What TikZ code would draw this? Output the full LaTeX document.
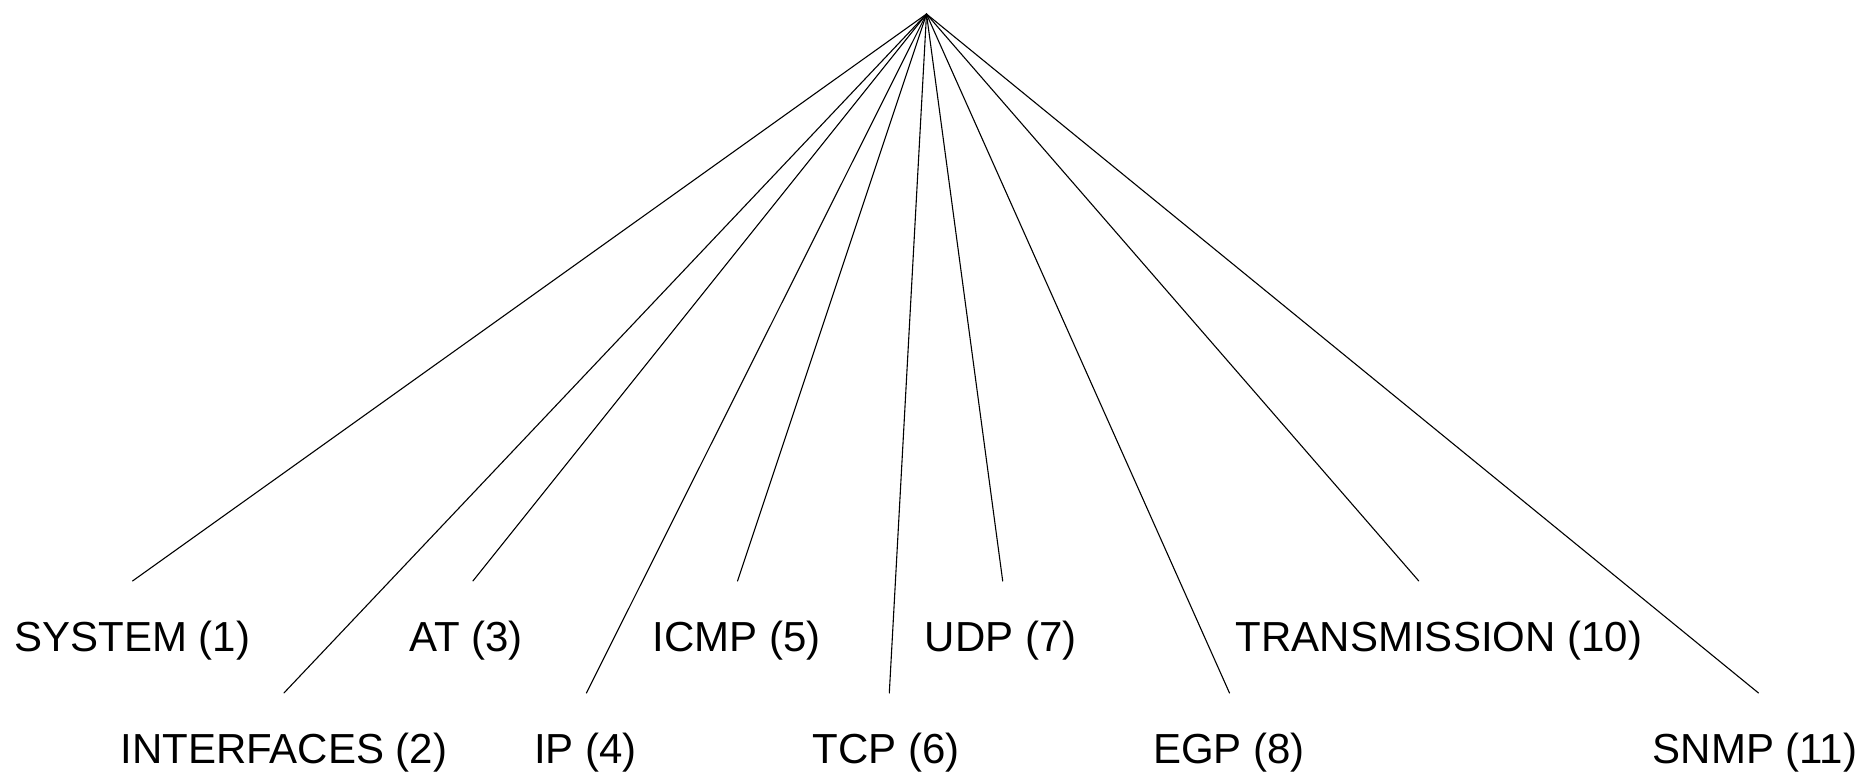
\documentclass[tikz,border=0pt]{standalone}
\usepackage{fontspec}
\setmainfont{Liberation Sans}
\begin{document}
\begin{tikzpicture}[x=1pt,y=-1pt,
  lbl/.style={anchor=base, inner sep=0pt, font=\fontsize{42}{50}\selectfont},
  branch/.style={line width=1.1pt, line cap=round}]
\useasboundingbox (0,0) rectangle (1865,772);

% root of the MIB-II group tree
\coordinate (root) at (926.5,14);

% group labels, two staggered rows
\node[lbl] (system)  at (132.5,651.7)  {SYSTEM (1)};
\node[lbl] (at)      at (466,651.7)    {AT (3)};
\node[lbl] (icmp)    at (736.8,651.7)  {ICMP (5)};
\node[lbl] (udp)     at (1000.7,651.7) {UDP (7)};
\node[lbl] (trans)   at (1439,651.7)   {TRANSMISSION (10)};

\node[lbl] (ifaces)  at (283.7,763.4)  {INTERFACES (2)};
\node[lbl] (ip)      at (585.5,763.4)  {IP (4)};
\node[lbl] (tcp)     at (886.4,763.4)  {TCP (6)};
\node[lbl] (egp)     at (1229,763.4)   {EGP (8)};
\node[lbl] (snmp)    at (1755,763.4)   {SNMP (11)};

% free ends of the branches, just above each label
\coordinate (e-system) at (132.5,581);
\coordinate (e-at)     at (472.9,581);
\coordinate (e-icmp)   at (737.5,581);
\coordinate (e-udp)    at (1002.7,581);
\coordinate (e-trans)  at (1418.8,581);

\coordinate (e-ifaces) at (283.9,693);
\coordinate (e-ip)     at (586.4,693);
\coordinate (e-tcp)    at (889.3,693);
\coordinate (e-egp)    at (1229.5,693);
\coordinate (e-snmp)   at (1758.5,693);

% branches
\foreach \e in {system,ifaces,at,ip,icmp,tcp,udp,egp,trans,snmp}
  \draw[branch] (root) -- (e-\e);
\end{tikzpicture}
\end{document}
